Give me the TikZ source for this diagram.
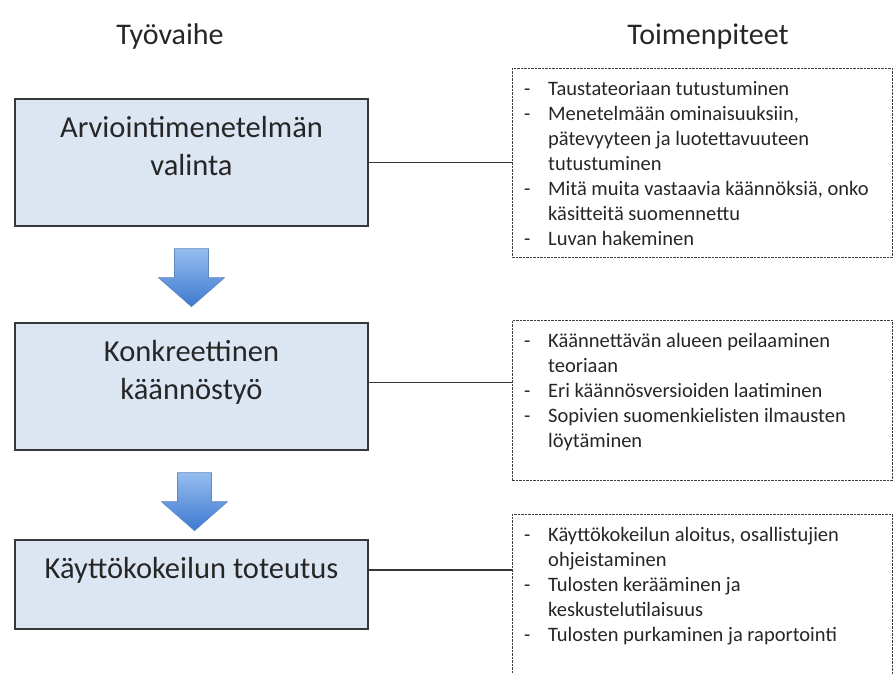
\documentclass[tikz,border=0pt]{standalone}
\usepackage{fontspec}
\setmainfont{Carlito}
\usetikzlibrary{positioning,calc}
\definecolor{laatikko}{RGB}{220,230,242}
\definecolor{reuna}{RGB}{55,55,55}
\definecolor{nuoliyla}{RGB}{150,190,240}
\definecolor{nuoliala}{RGB}{62,120,208}
\definecolor{nuolireuna}{RGB}{95,135,195}

\tikzset{
  vaihe/.style={draw=reuna, fill=laatikko, line width=1.4pt, minimum width=353, minimum height=127, inner sep=0},
  vaiheteksti/.style={align=center, inner sep=0, font=\fontsize{30.5}{38}\selectfont, text=black!85},
  otsikko/.style={anchor=base, inner sep=0, font=\fontsize{30}{36}\selectfont, text=black!85},
  toimi/.style={draw=black!75, dash pattern=on 2.5pt off 1pt, line width=0.9pt, minimum width=380, anchor=north west, inner sep=0},
  lista/.style={anchor=north west, inner sep=0, font=\fontsize{20.5}{25}\selectfont, text=black!85},
  yhteys/.style={draw=reuna, line width=1.4pt}
}

\begin{document}
\begin{tikzpicture}[x=1pt, y=-1pt]
\useasboundingbox (0,0) rectangle (894,674);
\clip (0,0) rectangle (894,674);
% Otsikot
\node[otsikko] (h1) at (170,45) {Työvaihe};
\node[otsikko] (h2) at (708,45) {Toimenpiteet};
% Työvaiheet
\node[vaihe] (b1) at (191.5,162.5) {};
\node[vaihe] (b2) at (191.5,386.5) {};
\node[vaihe, minimum height=89] (b3) at (191.5,584.5) {};
\node[vaiheteksti] (t1) at (191.5,146) {Arviointimenetelmän\\valinta};
\node[vaiheteksti] (t2) at (191.5,372.5) {Konkreettinen\\käännöstyö};
\node[vaiheteksti] (t3) at (191.5,570) {Käyttökokeilun toteutus};
% Nuolet
\foreach \a/\s in {b1/0,b2/3}
  \shade[top color=nuoliyla, bottom color=nuoliala, draw=nuolireuna, line width=0.6pt]
    ($(\a.south)+(\s-17,22)$) -- ++(34,0) -- ++(0,29) -- ++(16,0) -- ++(-33,29)
    -- ++(-33,-29) -- ++(16,0) -- cycle;
% Toimenpiteet
\node[toimi, minimum height=189] (d1) at (512,68) {};
\node[toimi, minimum height=160] (d2) at (512,320) {};
\node[toimi, minimum height=200] (d3) at (512,514) {};
\node[lista, below right=10pt and 12pt of d1.north west] (l1) {%
  \begin{tabular}{@{}p{24pt}@{}l@{}}
  - & Taustateoriaan tutustuminen\\
  - & Menetelmään ominaisuuksiin,\\
    & pätevyyteen ja luotettavuuteen\\
    & tutustuminen\\
  - & Mitä muita vastaavia käännöksiä, onko\\
    & käsitteitä suomennettu\\
  - & Luvan hakeminen
  \end{tabular}};
\node[lista, below right=10pt and 12pt of d2.north west] (l2) {%
  \begin{tabular}{@{}p{24pt}@{}l@{}}
  - & Käännettävän alueen peilaaminen\\
    & teoriaan\\
  - & Eri käännösversioiden laatiminen\\
  - & Sopivien suomenkielisten ilmausten\\
    & löytäminen
  \end{tabular}};
\node[lista, below right=10pt and 12pt of d3.north west] (l3) {%
  \begin{tabular}{@{}p{24pt}@{}l@{}}
  - & Käyttökokeilun aloitus, osallistujien\\
    & ohjeistaminen\\
  - & Tulosten kerääminen ja\\
    & keskustelutilaisuus\\
  - & Tulosten purkaminen ja raportointi
  \end{tabular}};
% Yhteydet
\draw[yhteys] (b1.east) -- (b1.east -| d1.west);
\draw[yhteys] ([yshift=4pt]b2.east) -- ([yshift=4pt]b2.east -| d2.west);
\draw[yhteys] (t3 -| b3.east) -- (t3 -| d3.west);
\end{tikzpicture}
\end{document}
